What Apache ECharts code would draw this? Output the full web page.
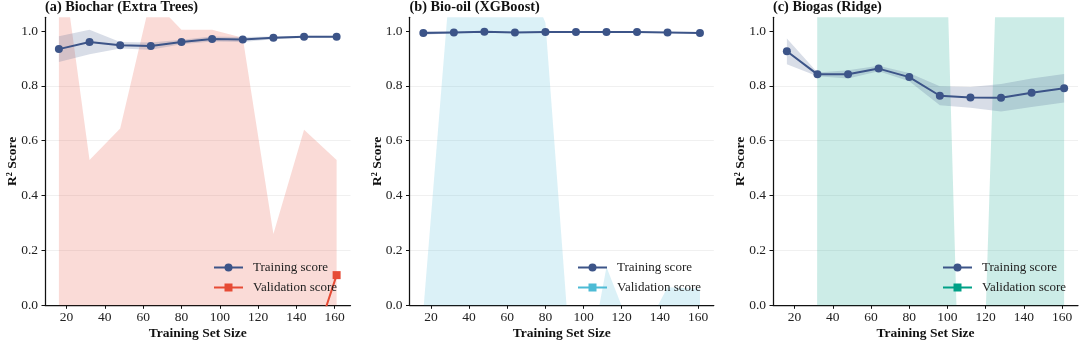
<!DOCTYPE html>
<html>
<head>
<meta charset="utf-8">
<script src="https://cdn.jsdelivr.net/npm/echarts@6/dist/echarts.min.js"></script>
<style>
  html, body { margin: 0; padding: 0; background: #ffffff; }
  #wrap { width: 1080px; height: 341px; position: relative; }
  .panel { position: absolute; top: 0; width: 360px; height: 341px; }
</style>
</head>
<body>
<div id="wrap">
  <div class="panel" id="pa" style="left:0px"></div>
  <div class="panel" id="pb" style="left:360px"></div>
  <div class="panel" id="pc" style="left:720px"></div>
</div>
<script>
// ---------------- data ----------------
const trainSizes = [16, 32, 48, 64, 80, 96, 112, 128, 144, 161];
const xTicks = [20, 40, 60, 80, 100, 120, 140, 160];
const yTicks = [0, 0.2, 0.4, 0.6, 0.8, 1.0];

const titles = ['(a) Biochar (Extra Trees)', '(b) Bio-oil (XGBoost)', '(c) Biogas (Ridge)'];
const legendNames = ['Training score', 'Validation score'];

// (a) Biochar - Extra Trees
const biocharTrainMean = [0.934, 0.960, 0.948, 0.945, 0.960, 0.971, 0.969, 0.975, 0.979, 0.979];
const biocharTrainStd  = [0.047, 0.045, 0.012, 0.013, 0.008, 0.009, 0.009, 0.005, 0.004, 0.003];
const biocharValMean   = [-3.2, -2.1, -1.4, -1.0, -0.75, -0.6, -0.45, -0.55, -0.25, 0.11];
const biocharValStd    = [4.55, 2.63, 2.045, 2.12, 1.755, 1.605, 1.425, 0.81, 0.89, 0.42];

// (b) Bio-oil - XGBoost
const biooilTrainMean = [0.993, 0.995, 0.997, 0.995, 0.996, 0.996, 0.996, 0.996, 0.995, 0.993];
const biooilTrainStd  = [0.007, 0.003, 0.002, 0.002, 0.002, 0.001, 0.001, 0.001, 0.001, 0.001];
const biooilValMean   = [-1.5, -0.9, -0.8, -0.7, -0.8, -1.6, -0.9, -1.1, -0.7, -0.6];
const biooilValStd    = [1.48, 2.25, 2.1, 2.0, 1.83, 1.14, 1.04, 0.954, 0.766, 0.66];

// (c) Biogas - Ridge
const biogasTrainMean = [0.926, 0.842, 0.842, 0.863, 0.832, 0.764, 0.758, 0.757, 0.775, 0.791];
const biogasTrainStd  = [0.047, 0.007, 0.015, 0.010, 0.015, 0.035, 0.038, 0.050, 0.052, 0.052];
const biogasValMean   = [-400, -3.0, -2.5, -2.0, -1.8, -1.5, -4.0, -1.2, -0.9, -0.7];
const biogasValStd    = [100, 6.5, 5.3, 4.6, 4.2, 3.64, 2.2, 2.95, 3.4, 3.7];

const trainColor = '#3C5488';
const valColors = ['#E64B35', '#4DBBD5', '#00A087'];

// ---------------- helpers ----------------
const FONT = 'Liberation Serif';

function hexA(hex, a) {
  const r = parseInt(hex.slice(1, 3), 16), g = parseInt(hex.slice(3, 5), 16), b = parseInt(hex.slice(5, 7), 16);
  return 'rgba(' + r + ',' + g + ',' + b + ',' + a + ')';
}

// band series: one data item per size [x, mean - std, mean + std]; polygon drawn once through api.coord
function bandSeries(name, mean, std, color) {
  const data = trainSizes.map((x, i) => [x, mean[i] - std[i], mean[i] + std[i]]);
  return {
    name: name, type: 'custom', silent: true, z: 1,
    data: data,
    encode: { x: 0, y: [1, 2] },
    renderItem: function (params, api) {
      if (params.dataIndexInside !== 0) return null;
      const n = params.dataInsideLength;
      const upper = [], low = [];
      for (let j = 0; j < n; j++) {
        const x = api.value(0, j);
        low.push(api.coord([x, api.value(1, j)]));
        upper.push(api.coord([x, api.value(2, j)]));
      }
      const pts = upper.concat(low.reverse());
      const cs = params.coordSys;
      return {
        type: 'group',
        clipPath: { type: 'rect', shape: { x: cs.x, y: cs.y, width: cs.width, height: cs.height } },
        children: [{ type: 'polygon', shape: { points: pts }, style: { fill: color, stroke: null } }]
      };
    }
  };
}

function buildPanel(elId, title, trMean, trStd, vaMean, vaStd, vColor, layout) {
  const chart = echarts.init(document.getElementById(elId), null, { renderer: 'canvas' });
  const option = {
    animation: false,
    title: {
      text: title, left: layout.left, top: 0, padding: 0,
      textStyle: { fontFamily: FONT, fontWeight: 'bold', fontSize: 14.3, color: '#111' }
    },
    legend: {
      orient: 'vertical', left: layout.legendLeft, top: 260.5, padding: 0,
      data: legendNames, itemWidth: 29, itemHeight: 10, itemGap: 6,
      selectedMode: false,
      textStyle: { fontFamily: FONT, fontSize: 13, color: '#222', lineHeight: 14, padding: [0, 0, 0, 5] }
    },
    grid: { left: layout.left, width: layout.width, top: 17.3, height: 288,
            containLabel: false, outerBoundsMode: 'none' },
    xAxis: {
      type: 'value', min: 8.75, max: 168.25,
      name: 'Training Set Size', nameLocation: 'middle', nameGap: 21, nameMoveOverlap: false,
      nameTextStyle: { fontFamily: FONT, fontWeight: 'bold', fontSize: 13.5, color: '#111' },
      axisLine: { show: true, lineStyle: { color: '#111', width: 1.25 } },
      axisTick: { show: true, length: 3.5, customValues: xTicks, lineStyle: { color: '#111', width: 1 } },
      axisLabel: { customValues: xTicks, margin: 5, fontFamily: FONT, fontSize: 13.5, color: '#222' },
      splitLine: { show: false }
    },
    yAxis: {
      type: 'value', min: 0, max: 1.05, interval: 0.2,
      name: 'R\u00B2 Score', nameLocation: 'middle', nameGap: 25, nameRotate: 90, nameMoveOverlap: false,
      nameTextStyle: { fontFamily: FONT, fontWeight: 'bold', fontSize: 13.5, color: '#111' },
      axisLine: { show: true, lineStyle: { color: '#111', width: 1.25 } },
      axisTick: { show: true, length: 3.5, customValues: yTicks, lineStyle: { color: '#111', width: 1 } },
      axisLabel: { customValues: yTicks, margin: 7, fontFamily: FONT, fontSize: 13.5, color: '#222',
                   formatter: v => v.toFixed(1) },
      splitLine: { show: true, showMinLine: false, showMaxLine: false, lineStyle: { color: '#f0f0f0', width: 1 } }
    },
    series: [
      bandSeries('_vaBand', vaMean, vaStd, hexA(vColor, 0.2)),
      bandSeries('_trBand', trMean, trStd, hexA(trainColor, 0.2)),
      {
        name: 'Validation score', type: 'line', data: trainSizes.map((x, i) => [x, vaMean[i]]),
        symbol: 'rect', symbolSize: 8, clip: true, z: 3,
        itemStyle: { color: vColor }, lineStyle: { color: vColor, width: 2 }
      },
      {
        name: 'Training score', type: 'line', data: trainSizes.map((x, i) => [x, trMean[i]]),
        symbol: 'circle', symbolSize: 8, clip: true, z: 4,
        itemStyle: { color: trainColor }, lineStyle: { color: trainColor, width: 2 }
      }
    ]
  };
  chart.setOption(option);
}

buildPanel('pa', titles[0], biocharTrainMean, biocharTrainStd, biocharValMean, biocharValStd, valColors[0],
           { left: 45, width: 305.5, legendLeft: 213 });
buildPanel('pb', titles[1], biooilTrainMean, biooilTrainStd, biooilValMean, biooilValStd, valColors[1],
           { left: 49.5, width: 304.3, legendLeft: 217 });
buildPanel('pc', titles[2], biogasTrainMean, biogasTrainStd, biogasValMean, biogasValStd, valColors[2],
           { left: 53, width: 305, legendLeft: 222 });
</script>
</body>
</html>
